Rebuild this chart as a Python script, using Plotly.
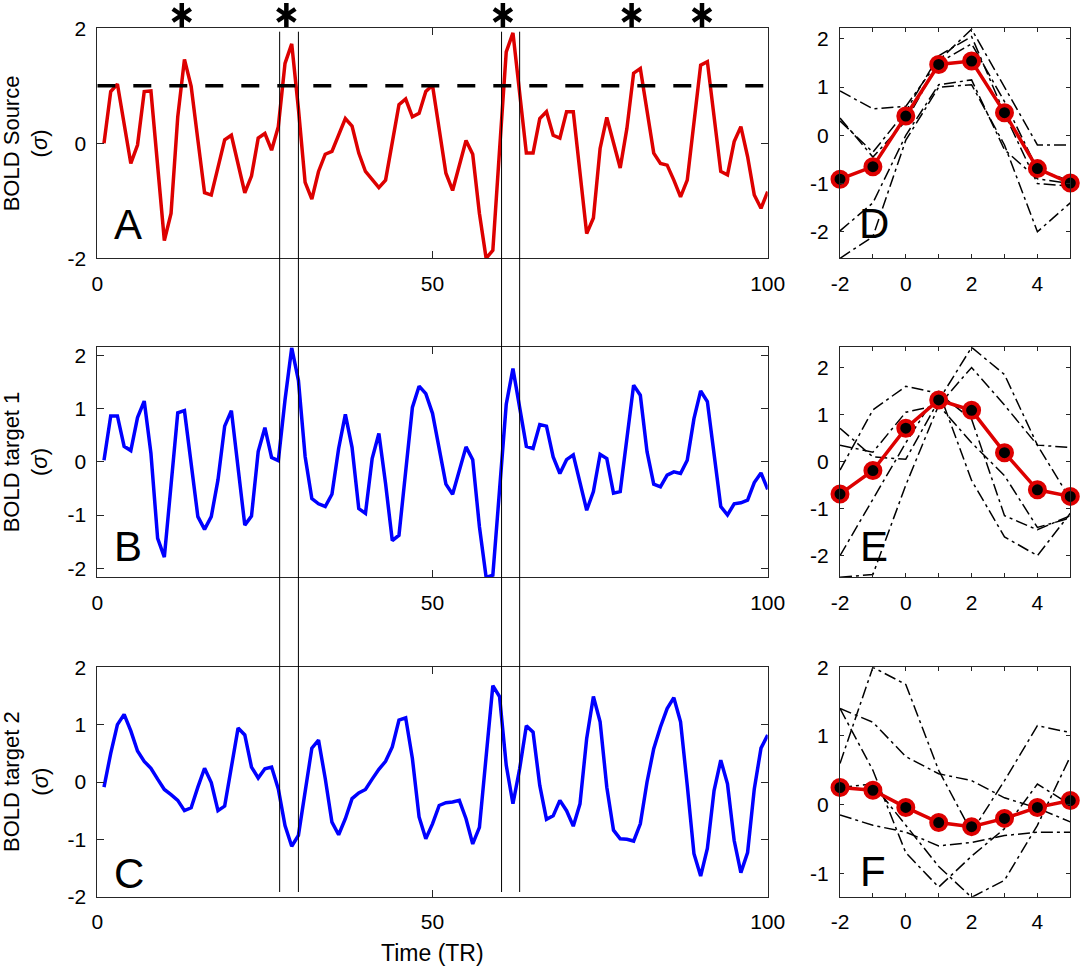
import plotly.graph_objects as go

W, H = 1084, 969

# time axis (TR)
time_tr = list(range(1, 101))

source = [0.00, 0.90, 1.03, 0.35, -0.35, -0.03, 0.90, 0.91, -0.40, -1.69,
          -1.22, 0.46, 1.46, 0.99, 0.06, -0.86, -0.90, -0.40, 0.06, 0.14,
          -0.35, -0.86, -0.57, 0.09, 0.17, -0.12, 0.29, 1.39, 1.73, 0.60,
          -0.68, -0.97, -0.49, -0.19, -0.14, 0.14, 0.43, 0.30, -0.17, -0.49,
          -0.64, -0.77, -0.64, 0.03, 0.67, 0.77, 0.46, 0.52, 0.90, 1.01,
          0.23, -0.52, -0.82, -0.41, 0.05, -0.19, -1.22, -2.00, -1.86, -0.12,
          1.59, 1.92, 0.87, -0.17, -0.17, 0.43, 0.55, 0.14, 0.09, 0.55,
          0.55, -0.52, -1.57, -1.30, -0.09, 0.45, 0.00, -0.43, 0.26, 1.22,
          1.30, 0.52, -0.17, -0.35, -0.38, -0.64, -0.93, -0.64, 0.41, 1.36,
          1.42, 0.43, -0.49, -0.55, 0.03, 0.29, -0.23, -0.90, -1.13, -0.84]

target1 = [0.03, 0.86, 0.86, 0.29, 0.21, 0.83, 1.14, 0.16, -1.44, -1.79,
           -0.44, 0.92, 0.96, -0.03, -1.03, -1.27, -1.03, -0.34, 0.67, 0.96,
           -0.09, -1.19, -1.02, 0.19, 0.64, 0.08, 0.02, 1.16, 2.14, 1.53,
           0.10, -0.69, -0.79, -0.84, -0.61, 0.25, 0.89, 0.27, -0.88, -0.97,
           0.06, 0.53, -0.41, -1.48, -1.38, -0.22, 1.02, 1.42, 1.28, 0.91,
           0.28, -0.42, -0.61, -0.19, 0.28, 0.04, -1.22, -2.17, -2.13, -0.53,
           1.08, 1.75, 1.06, 0.29, 0.25, 0.70, 0.67, 0.09, -0.22, 0.04,
           0.13, -0.41, -0.91, -0.56, 0.14, 0.06, -0.59, -0.56, 0.41, 1.44,
           1.25, 0.19, -0.42, -0.47, -0.25, -0.19, -0.22, 0.03, 0.81, 1.33,
           1.13, 0.09, -0.84, -1.00, -0.79, -0.77, -0.72, -0.39, -0.21, -0.52]

target2 = [-0.09, 0.50, 1.00, 1.18, 0.89, 0.54, 0.36, 0.24, 0.05, -0.13,
           -0.22, -0.32, -0.50, -0.45, -0.09, 0.24, -0.01, -0.50, -0.42, 0.29,
           0.94, 0.82, 0.26, 0.07, 0.23, 0.26, -0.12, -0.76, -1.12, -0.93,
           -0.17, 0.59, 0.73, 0.06, -0.70, -0.92, -0.64, -0.29, -0.19, -0.13,
           0.05, 0.22, 0.36, 0.61, 1.08, 1.12, 0.41, -0.61, -0.99, -0.73,
           -0.41, -0.36, -0.35, -0.32, -0.64, -1.08, -0.79, 0.41, 1.68, 1.49,
           0.29, -0.38, 0.23, 0.98, 0.87, -0.06, -0.65, -0.59, -0.32, -0.50,
           -0.77, -0.38, 0.76, 1.49, 1.05, -0.09, -0.84, -0.99, -1.00, -1.03,
           -0.73, 0.00, 0.58, 0.96, 1.28, 1.47, 1.05, -0.06, -1.25, -1.64,
           -1.16, -0.15, 0.38, -0.03, -1.02, -1.58, -1.23, -0.12, 0.59, 0.82]

threshold = 1.0
event_times = [12.6, 28.2, 60.5, 79.7, 90.2]     # asterisks
window_edges = [27.2, 30.0, 60.3, 63.0]         # thin vertical lines

# event-locked segments
lag = [-2, -1, 0, 1, 2, 3, 4, 5]

d_mean = [-0.91, -0.65, 0.40, 1.47, 1.54, 0.47, -0.69, -0.99]
d_events = [
    [0.92, 0.55, 0.60, 1.55, 2.20, 1.00, -0.20, -0.20],
    [0.36, -0.45, 0.30, 1.50, 1.90, 0.70, -0.70, -0.95],
    [0.30, -0.35, 0.50, 1.65, 2.05, 0.45, -1.00, -1.05],
    [-1.98, -1.40, 0.00, 1.05, 1.15, -0.30, -0.90, -1.00],
    [-2.55, -2.10, -0.10, 1.00, 1.05, -0.20, -2.00, -1.40],
]

e_mean = [-0.69, -0.19, 0.71, 1.31, 1.09, 0.19, -0.60, -0.74]
e_events = [
    [0.71, 0.10, 0.05, 1.30, 2.43, 1.85, 0.35, 0.30],
    [0.35, 0.20, 1.05, 1.20, 2.00, 1.20, 0.35, -0.80],
    [-0.18, 1.10, 1.60, 1.45, 0.90, -1.15, -1.45, -1.15],
    [-2.00, -0.80, 0.40, 1.50, -0.40, -1.60, -2.00, -1.10],
    [-2.46, -2.40, -0.50, 1.20, 0.40, -0.30, -1.40, -1.20],
]

f_mean = [0.25, 0.21, -0.04, -0.26, -0.32, -0.20, -0.04, 0.06]
f_events = [
    [0.60, 2.00, 1.75, 0.50, -0.40, 0.35, 1.15, 1.05],
    [1.40, 1.20, 0.70, 0.45, 0.35, 0.10, -0.05, -0.25],
    [1.40, 0.50, -0.70, -1.20, -0.75, -0.35, 0.30, 0.00],
    [-0.15, -0.30, -0.40, -0.60, -0.55, -0.45, -0.40, -0.40],
    [0.25, 0.30, -0.30, -0.90, -1.35, -1.10, -0.30, 0.70],
]


def px(x):
    return x / W


def py(y):
    return 1 - y / H


def ticks(vals):
    # plain hyphen minus like the original
    return dict(tickvals=vals, ticktext=[str(v) for v in vals])


RED = "#dd0000"
BLUE = "#0000ff"
AX = "#262626"
FONT = "Liberation Sans, Arial, Helvetica, sans-serif"

fig = go.Figure()

# left column time series
fig.add_scatter(x=time_tr, y=source, mode="lines", line=dict(color=RED, width=3.5),
                xaxis="x", yaxis="y")
fig.add_scatter(x=[0, 100], y=[threshold, threshold], mode="lines",
                line=dict(color="black", width=3.5, dash="18px,18px"), xaxis="x", yaxis="y")
fig.add_scatter(x=time_tr, y=target1, mode="lines", line=dict(color=BLUE, width=3.5),
                xaxis="x2", yaxis="y2")
fig.add_scatter(x=time_tr, y=target2, mode="lines", line=dict(color=BLUE, width=3.5),
                xaxis="x3", yaxis="y3")

# asterisks in a thin strip above panel A (6 arms: y-up + y-down)
for sym in ["y-up-open", "y-down-open"]:
    fig.add_scatter(x=event_times, y=[0.47] * len(event_times), mode="markers",
                    cliponaxis=False,
                    marker=dict(symbol=sym, size=15, color="black",
                                line=dict(color="black", width=4.5)),
                    xaxis="x7", yaxis="y7")

# right column event-locked averages
for n, (mean, events) in enumerate([(d_mean, d_events), (e_mean, e_events), (f_mean, f_events)]):
    xa, ya = "x%d" % (n + 4), "y%d" % (n + 4)
    for ev in events:
        fig.add_scatter(x=lag, y=ev, mode="lines",
                        line=dict(color="black", width=1.5, dash="12px,4px,3px,4px"),
                        xaxis=xa, yaxis=ya)
    fig.add_scatter(x=lag, y=mean, mode="lines+markers", cliponaxis=False,
                    line=dict(color=RED, width=3.5),
                    marker=dict(size=15, color="black", line=dict(color=RED, width=4)),
                    xaxis=xa, yaxis=ya)

left_x = [px(97.3), px(767.7)]
right_x = [px(840), px(1070.3)]
rows = [[py(258.3), py(28.3)], [py(577.3), py(347.3)], [py(896.7), py(667.3)]]

common = dict(showline=True, mirror="ticks", linecolor=AX, linewidth=1, ticks="inside",
              tickcolor=AX, showgrid=False, zeroline=False, automargin=False,
              tickfont=dict(family=FONT, size=21, color="black"), ticklabelstandoff=6)

layout_axes = {}
y_left = [dict(range=[-2, 2], **ticks([-2, 0, 2])),
          dict(range=[-2.17, 2.15], **ticks([-2, -1, 0, 1, 2])),
          dict(range=[-2, 2], **ticks([-2, -1, 0, 1, 2]))]
y_right = [dict(range=[-2.55, 2.22], **ticks([-2, -1, 0, 1, 2])),
           dict(range=[-2.46, 2.43], **ticks([-2, -1, 0, 1, 2])),
           dict(range=[-1.34, 2.0], **ticks([-1, 0, 1, 2]))]
for i in range(3):
    k = i + 1
    xn = "xaxis" if k == 1 else "xaxis%d" % k
    yn = "yaxis" if k == 1 else "yaxis%d" % k
    layout_axes[xn] = dict(domain=left_x, anchor="y" if k == 1 else "y%d" % k,
                           range=[0, 100], ticklen=7, **ticks([0, 50, 100]), **common)
    layout_axes[yn] = dict(domain=rows[i], anchor="x" if k == 1 else "x%d" % k,
                           ticklen=7, **y_left[i], **common)
    k = i + 4
    layout_axes["xaxis%d" % k] = dict(domain=right_x, anchor="y%d" % k, range=[-2, 5],
                                      ticklen=4, **ticks([-2, 0, 2, 4]),
                                      minor=dict(tickvals=lag, ticklen=4, ticks="inside",
                                                 tickcolor=AX),
                                      **common)
    layout_axes["yaxis%d" % k] = dict(domain=rows[i], anchor="x%d" % k, ticklen=4,
                                      **y_right[i], **common)

# hidden strip axes for the asterisks
layout_axes["xaxis7"] = dict(domain=left_x, anchor="y7", range=[0, 100], visible=False)
layout_axes["yaxis7"] = dict(domain=[py(28.3), 1], anchor="x7", range=[0, 1], visible=False)

shapes = []
for xe in window_edges:
    shapes.append(dict(type="line", xref="x", yref="paper", x0=xe, x1=xe,
                       y0=py(892), y1=py(31.7), line=dict(color="black", width=1),
                       layer="above"))

annotations = []
letters = [("A", 111.7, 240.7), ("B", 112.3, 563.3), ("C", 111.7, 890),
           ("D", 856.7, 240), ("E", 858.3, 563.3), ("F", 858.3, 888.3)]
for txt, lx, base in letters:
    annotations.append(dict(x=px(lx), xref="paper", y=py(base + 9), yref="paper", text=txt,
                            showarrow=False, xanchor="left", yanchor="bottom",
                            font=dict(family=FONT, size=42, color="black")))

ylabels = [("BOLD Source", 143.3), ("BOLD target 1", 462.3), ("BOLD target 2", 782)]
for txt, cy in ylabels:
    annotations.append(dict(x=px(26), xref="paper", y=py(cy), yref="paper",
                            text=txt + "<br>(<i>σ</i>)", textangle=-90, showarrow=False,
                            xanchor="center", yanchor="middle",
                            font=dict(family=FONT, size=22, color="black")))

annotations.append(dict(x=px(432.5), xref="paper", y=py(953), yref="paper", text="Time (TR)",
                        showarrow=False, xanchor="center", yanchor="middle",
                        font=dict(family=FONT, size=23, color="black")))

fig.update_layout(width=W, height=H, margin=dict(l=0, r=0, t=0, b=0),
                  paper_bgcolor="white", plot_bgcolor="white", showlegend=False,
                  shapes=shapes, annotations=annotations, **layout_axes)

fig.write_html("out.html", config={"displayModeBar": False},
               post_script="document.body.style.margin='0px';")
